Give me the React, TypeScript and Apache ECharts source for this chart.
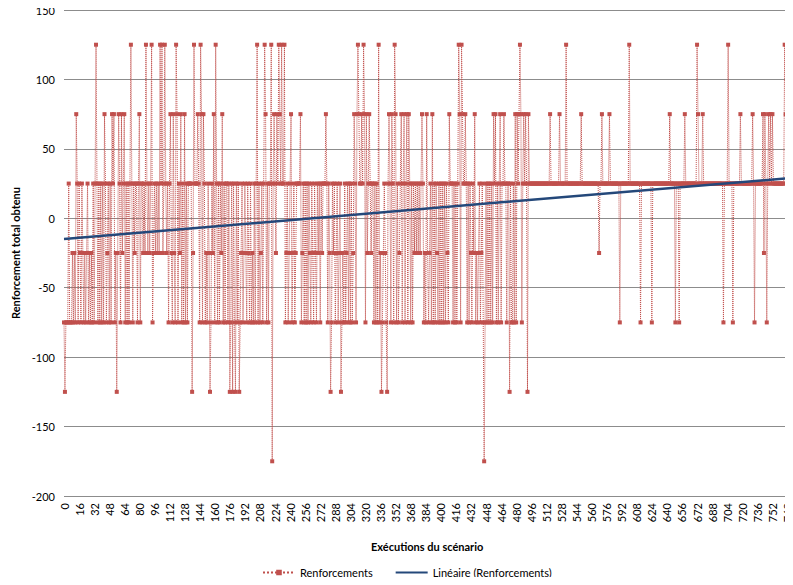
import React, { useEffect, useRef } from "react";
import * as echarts from "echarts";

// Renforcements, indices 0..771 (segment by segment)
const seg0 = [
  -75, -125, -75, -75, -75, 25, -75, -75, -75, -25,
  -75, -25, -75, 75, 25, -75, 25, -25, -75, 25,
  -25, -75, -25, -75, -25, 25, -75, -25, -75, -25,
  -75, 25, -75, 25, 125, 25, -75, 25, -75, 25,
  -75, 25, -75, 75, 25, -75, -25, 25, -75, 25,
  -75, 75, 25, 75, -75, -25, -125, -25, 75, 25,
  -75, 75, -25, 25, 75, -75, 25, -75, 25, -75,
  25, 125, 25, -75, 25, -25, 25, 25, -75, 25,
  75, -75, 25, 25, -25, 25, -25, 125, 25, -25,
  25, -25, 25, 125, -75, -25,
];
const seg1 = [
  25, -25, 25, -25, 25, -25, 125, 25, 125, -25,
  25, 125, 25, -25, 25, -75, 25, 75, -25, -75,
  75, -25, -75, 125, 75, -75, 25, -25, 75, -75,
  25, -75, 75, -75, 25, -75, 25, 25, 25, 25,
  -125, -25, 125, 25, 25, 25, 75, 25, -75, 125,
  75, -75, 75, 25, -75, -25, -75, 25, -25, -125,
  -75, 25, -25, 75, -75, 125, 25, -75, 25, -75,
  25, -25, 75, -75, 25, -75, 25, 25, -75, 25,
  -125, -75, 25, -125, 25, -75, -125, 25, -75, 25,
  -125, -75, -25, 25, -75,
];
const seg2 = [
  -25, 25, -25, -75, 25, -25, -75, 25, -75, -25,
  -75, 25, -75, 25, 125, -75, 25, -75, -25, 25,
  -75, 25, 125, 75, -75, 25, -75, 25, 25, 125,
  -175, 25, 75, 25, -25, 75, 25, 125, 75, 25,
  125, 25, 25, 125, -75, -25, 25, -75, -25, 25,
  75, -75, -25, 25, -75, -25, 25, 25, 25, 25,
  75, -75, -25, 25, -75, 25, -75, 25, -75, 25,
  -25, -75, 25, -25, -75, 25, -25, -75, 25, -25,
  25, -75, 25, -25, 25, 25, 25, 75, 25, -75,
  25, -25, -125, -75, 25,
];
const seg3 = [
  -25, 25, -75, -25, 25, -75, -25, 25, -125, -75,
  -25, -75, 25, -75, -25, 25, -75, 25, -75, 25,
  -75, -25, 75, 25, -75, 75, 125, 75, 25, 25,
  75, 25, 125, 75, -75, 75, -25, 25, 75, 25,
  -25, 25, 25, -75, 25, -75, 25, -75, 125, -75,
  -25, -125, -75, -25, 25, -25, -75, -125, 25, 75,
  25, -75, 75, 25, -75, 125, 75, -75, 25, -75,
  -25, 25, 75, -75, 25, 75, -75, 25, 75, -75,
  75, 25, -75, 25, -75, 25, -25, 25, -25, 25,
  -25, 25, -25, 25, 75,
];
const seg4 = [
  25, -75, -25, -75, 75, -25, -75, -25, 25, -75,
  75, -75, 25, -75, 25, -25, -75, 25, -75, 25,
  -75, 25, -75, 25, -75, 25, -25, -75, 75, 25,
  25, 25, -75, 25, -75, 25, -75, 25, 125, 75,
  -75, 125, 75, 25, 25, 75, 25, -75, 25, -75,
  25, -25, -75, 25, -25, 75, -75, -25, -75, -25,
  25, -75, -25, 25, -75, -175, -75, 25, -75, 25,
  -75, 25, -75, 25, -75, 75, 25, 75, -75, 25,
  -75, 25, 75, -75, 25, 25, 75, 25, 25, -75,
  25, 25, -125, 25, -75,
];
const seg5 = [
  -75, 25, -75, 75, -75, 75, 25, 75, 125, 75,
  -75, 25, 75, 25, 75, 25, -125, 75, 25, 25,
  25, 25, 25, 25, 25, 25, 25, 25, 25, 25,
  25, 25, 25, 25, 25, 25, 25, 25, 25, 25,
  75, 25, 25, 25, 25, 25, 25, 25, 25, 25,
  75, 25, 25, 25, 25, 25, 25, 125, 25, 25,
  25, 25, 25, 25, 25, 25, 25, 25, 25, 25,
  25, 25, 25, 75, 25, 25, 25, 25, 25, 25,
  25, 25, 25, 25, 25, 25, 25, 25, 25, 25,
  25, 25, -25, 25, 25, 75, 25, 25, 25, 25,
];
const seg6 = [
  25, 25, 25, 75, 25, 25, 25, 25, 25, 25,
  25, 25, 25, 25, -75, 25, 25, 25, 25, 25,
  25, 25, 25, 25, 125, 25, 25, 25, 25, 25,
  25, 25, 25, 25, 25, 25, -75, 25, 25, 25,
  25, 25, 25, 25, 25, 25, 25, 25, -75, 25,
  25, 25, 25, 25, 25, 25, 25, 25, 25, 25,
  25, 25, 25, 25, 25, 25, 25, 75, 25, 25,
  25, 25, 25, -75, 25, 25, 25, -75, 25, 25,
  25, 25, 25, 75, 25, 25, 25, 25, 25, 25,
  25, 25, 25, 25, 25, 25, 125, 75, 25, 25,
];
const seg7 = [
  25, 25, 75, 25, 25, 25, 25, 25, 25, 25,
  25, 25, 25, 25, 25, 25, 25, 25, 25, 25,
  25, 25, 25, 25, -75, 25, 25, 25, 25, 125,
  25, 25, 25, 25, -75, 25, 25, 25, 25, 25,
  25, 25, 75, 25, 25, 25, 25, 25, 25, 25,
  25, 25, 25, 25, 25, 75, 25, -75, 25, 25,
  25, 25, 25, 25, 25, 25, 75, -25, 75, 25,
  -75, 25, 75, 25, 75, 25, 75, 25, 25, 25,
  25, 25, 25, 25, 25, 25, 25, 25, 25, 125,
  75, 25, 25, 25, 25, 25,
];

const reinforcements = [...seg0, ...seg1, ...seg2, ...seg3, ...seg4, ...seg5, ...seg6, ...seg7];

// Linear trend end values
const trendStart = -15;
const trendEnd = 29;

const yTicks = { min: -200, max: 150, interval: 50 };

export default function App() {
  const ref = useRef<HTMLDivElement>(null);
  useEffect(() => {
    if (!ref.current) return;
    const chart = echarts.init(ref.current, null, { renderer: "svg" });
    const categories = reinforcements.map((_, i) => String(i));
    const last = reinforcements.length - 1;
    const font = "Lato, 'Liberation Sans', sans-serif";
    chart.setOption({
      animation: false,
      backgroundColor: "#ffffff",
      textStyle: { fontFamily: font },
      grid: { left: 64, right: 0, top: 10, bottom: 89, containLabel: false },
      xAxis: {
        type: "category",
        data: categories,
        boundaryGap: false,
        name: "Exécutions du scénario",
        nameLocation: "middle",
        nameGap: 45,
        nameTextStyle: { fontFamily: font, fontSize: 11, fontWeight: "bold", color: "#000" },
        axisLine: { show: false },
        axisTick: { show: false },
        axisLabel: {
          interval: 15,
          rotate: 90,
          fontFamily: font,
          fontSize: 11,
          color: "#000",
          margin: 7,
        },
        splitLine: { show: false },
      },
      yAxis: {
        type: "value",
        min: yTicks.min,
        max: yTicks.max,
        interval: yTicks.interval,
        name: "Renforcement total obtenu",
        nameLocation: "middle",
        nameGap: 42,
        nameTextStyle: { fontFamily: font, fontSize: 11, fontWeight: "bold", color: "#000" },
        axisLine: { show: false },
        axisTick: { show: false },
        axisLabel: { fontFamily: font, fontSize: 11, color: "#000", margin: 9 },
        splitLine: { show: true, lineStyle: { color: "#8c8c8c", width: 1 } },
      },
      legend: {
        top: 562,
        left: 257,
        itemWidth: 32,
        itemHeight: 7,
        itemGap: 22,
        textStyle: { fontFamily: font, fontSize: 11, color: "#000" },
        data: [
          { name: "Renforcements" },
          { name: "Linéaire (Renforcements)", itemStyle: { opacity: 0 } },
        ],
      },
      series: [
        {
          name: "Renforcements",
          type: "line",
          data: reinforcements,
          showAllSymbol: true,
          symbol: "rect",
          symbolSize: 4,
          lineStyle: { type: "dotted", width: 1, color: "#C0504D" },
          itemStyle: { color: "#C0504D" },
          z: 2,
        },
        {
          name: "Linéaire (Renforcements)",
          type: "line",
          data: [
            [0, trendStart],
            [last, trendEnd],
          ],
          symbol: "none",
          lineStyle: { width: 2.5, color: "#24487A" },
          itemStyle: { color: "#24487A" },
          z: 3,
        },
      ],
    });
    return () => chart.dispose();
  }, []);
  return <div ref={ref} style={{ width: 793, height: 585, margin: -8 }} />;
}
